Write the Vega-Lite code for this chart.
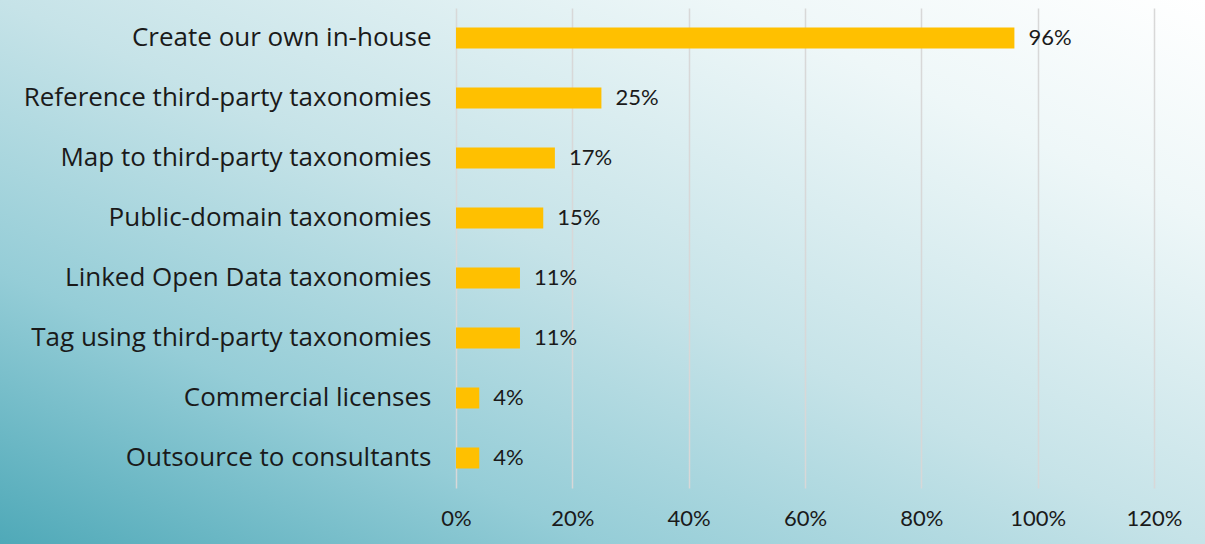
{
  "$schema": "https://vega.github.io/schema/vega-lite/v6.json",
  "width": 1205,
  "height": 544,
  "autosize": {"type": "none"},
  "padding": 0,
  "background": "#c5e3e8",
  "config": {
    "view": {
      "stroke": null,
      "fill": {
        "gradient": "linear",
        "x1": 0, "y1": 1, "x2": 1, "y2": 0,
        "stops": [
          {"offset": 0, "color": "#4fa9b8"},
          {"offset": 0.25, "color": "#95cdd7"},
          {"offset": 0.5, "color": "#c6e3e8"},
          {"offset": 0.8, "color": "#eef7f8"},
          {"offset": 1, "color": "#ffffff"}
        ]
      }
    }
  },
  "data": {
    "values": [
      {"option": "Create our own in-house", "share": 0.96},
      {"option": "Reference third-party taxonomies", "share": 0.25},
      {"option": "Map to third-party taxonomies", "share": 0.17},
      {"option": "Public-domain taxonomies", "share": 0.15},
      {"option": "Linked Open Data taxonomies", "share": 0.11},
      {"option": "Tag using third-party taxonomies", "share": 0.11},
      {"option": "Commercial licenses", "share": 0.04},
      {"option": "Outsource to consultants", "share": 0.04}
    ]
  },
  "encoding": {
    "y": {
      "field": "option",
      "type": "nominal",
      "sort": null,
      "scale": {"range": [8, 488], "paddingInner": 0.65, "paddingOuter": 0.325},
      "axis": {
        "title": null,
        "orient": "left",
        "offset": -456,
        "domain": false,
        "ticks": false,
        "labelPadding": 25,
        "labelFont": "Open Sans",
        "labelFontSize": 26,
        "labelColor": "#1a1a1a",
        "labelLimit": 600
      }
    },
    "x": {
      "field": "share",
      "type": "quantitative",
      "scale": {"domain": [0, 1.2], "range": [456, 1154], "nice": false}
    }
  },
  "layer": [
    {
      "mark": {"type": "bar", "color": "#ffc000"},
      "encoding": {
        "x": {
          "field": "share",
          "type": "quantitative",
          "axis": {
            "title": null,
            "orient": "top",
            "offset": 0,
            "values": [0, 0.2, 0.4, 0.6, 0.8, 1.0, 1.2],
            "domain": false,
            "ticks": false,
            "labels": false,
            "grid": true,
            "gridColor": "#d8d8d8",
            "gridWidth": 1.5
          }
        }
      }
    },
    {
      "mark": {"type": "text", "align": "left", "dx": 14, "font": "Lato", "fontSize": 22, "color": "#1a1a1a"},
      "encoding": {
        "x": {
          "field": "share",
          "type": "quantitative",
          "axis": {
            "title": null,
            "orient": "bottom",
            "offset": -56,
            "values": [0, 0.2, 0.4, 0.6, 0.8, 1.0, 1.2],
            "format": ".0%",
            "domain": false,
            "ticks": false,
            "grid": false,
            "labelPadding": 20,
            "labelFont": "Lato",
            "labelFontSize": 22,
            "labelColor": "#1a1a1a",
            "labelFlush": false
          }
        },
        "text": {"field": "share", "type": "quantitative", "format": ".0%"}
      }
    }
  ],
  "resolve": {"axis": {"x": "independent"}}
}
